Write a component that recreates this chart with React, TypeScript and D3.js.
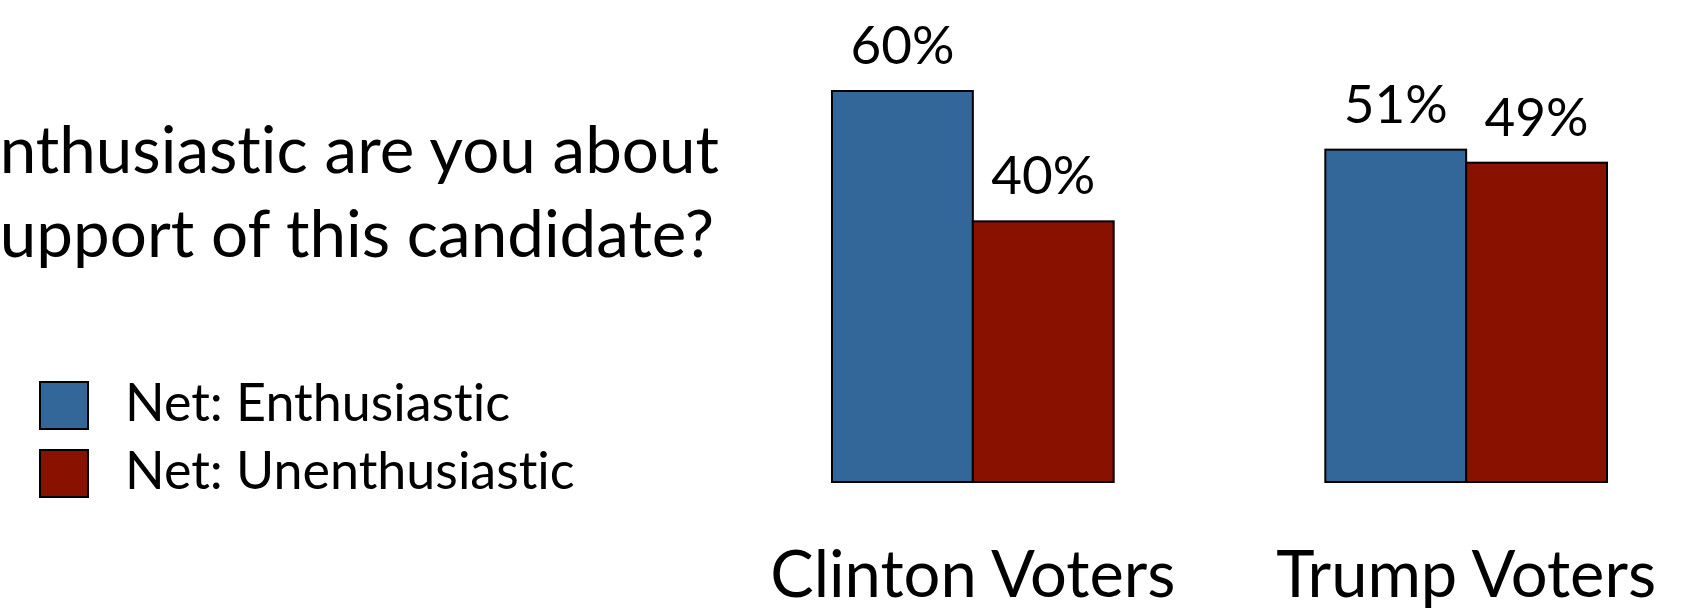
import React from "react";
import * as d3 from "d3";

const categories = ["Clinton Voters", "Trump Voters"];
const seriesNames = ["Net: Enthusiastic", "Net: Unenthusiastic"];
const enthusiastic = [60, 51];
const unenthusiastic = [40, 49];
const titleLines = ["nthusiastic are you about", "upport of this candidate?"];
const colors = ["#336699", "#881100"];

const W = 1687;
const H = 612;
const FONT = "Lato, 'Open Sans', sans-serif";

export default function App() {
  const x = d3.scaleBand<string>().domain(categories).range([832, 1607]).paddingInner(0.429).paddingOuter(0);
  const inner = d3.scaleBand<string>().domain(seriesNames).range([0, x.bandwidth()]).padding(0);
  const y = d3.scaleLinear().domain([0, 60]).range([482, 91]);
  const values = [enthusiastic, unenthusiastic];

  return (
    <svg width={W} height={H} style={{ position: "absolute", left: 0, top: 0, display: "block", fontVariantLigatures: "none" }} fontFamily={FONT}>
      <rect x={0} y={0} width={W} height={H} fill="#ffffff" />
      {/* title */}
      <text x={719} y={173} textAnchor="end" fontSize={65.5} fill="#000">{titleLines[0]}</text>
      <text x={714} y={257} textAnchor="end" fontSize={65.5} fill="#000">{titleLines[1]}</text>
      {/* legend */}
      {seriesNames.map((s, i) => (
        <g key={s}>
          <rect x={40} y={382 + i * 68} width={48} height={47} fill={colors[i]} stroke="#000" strokeWidth={2} />
          <text x={125} y={421 + i * 68} fontSize={52} fill="#000">{s}</text>
        </g>
      ))}
      {/* bars */}
      {categories.map((c, ci) => (
        <g key={c}>
          {seriesNames.map((s, si) => {
            const v = values[si][ci];
            const bx = (x(c) as number) + (inner(s) as number);
            const bw = inner.bandwidth();
            return (
              <g key={s}>
                <rect x={bx} y={y(v)} width={bw} height={y(0) - y(v)} fill={colors[si]} stroke="#000" strokeWidth={2} />
                <text x={bx + bw / 2} y={y(v) - 27} textAnchor="middle" fontSize={53} fill="#000">{`${v}%`}</text>
              </g>
            );
          })}
          <text x={(x(c) as number) + x.bandwidth() / 2} y={597} textAnchor="middle" fontSize={65} fill="#000">{c}</text>
        </g>
      ))}
    </svg>
  );
}
